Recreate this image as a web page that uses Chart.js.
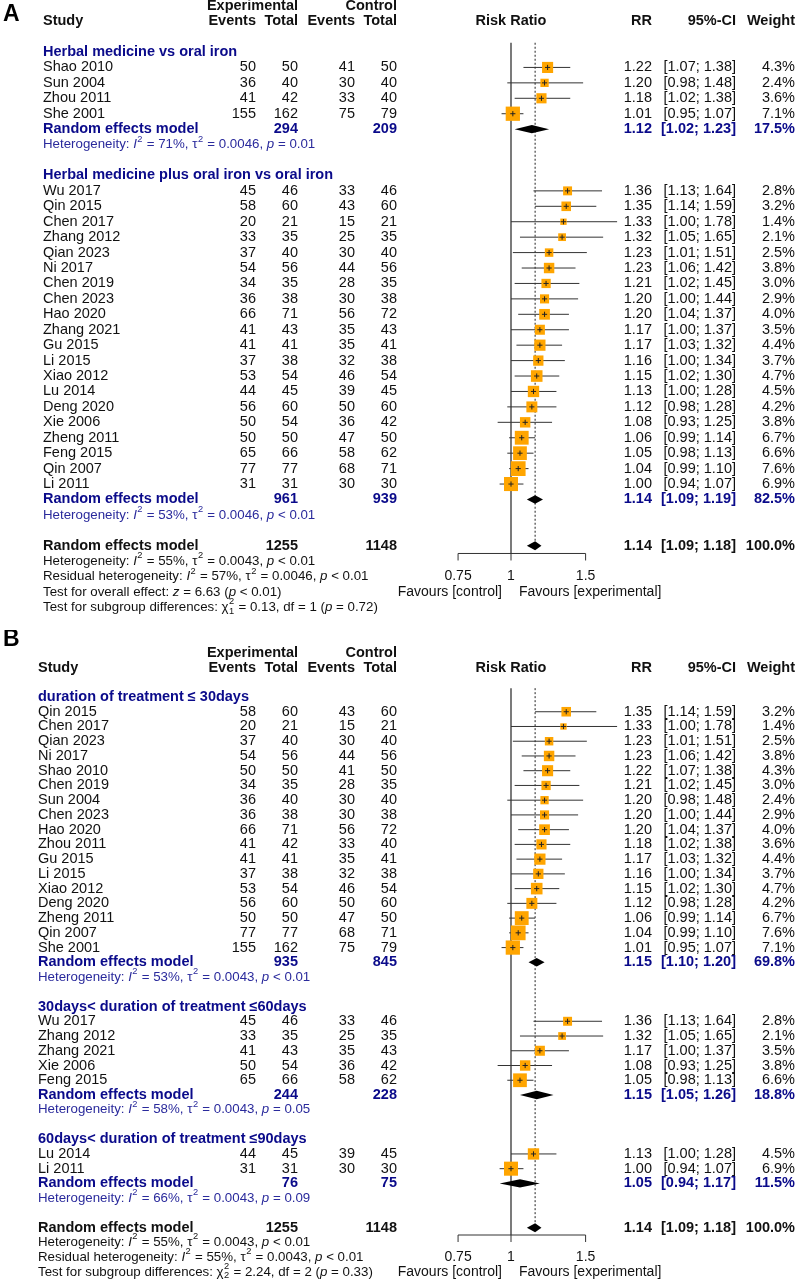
<!DOCTYPE html>
<html>
<head>
<meta charset="utf-8">
<title>Forest plots</title>
<script src="https://cdn.jsdelivr.net/npm/chart.js@4.4.0/dist/chart.umd.min.js"></script>
<style>
  html, body { margin: 0; padding: 0; background: #fff; }
  #wrap { position: relative; width: 803px; height: 1282px; background: #fff; }
  canvas { position: absolute; left: 0; }
  #forestA { top: 0; width: 803px; height: 630px; }
  #forestB { top: 630px; width: 803px; height: 652px; }
</style>
</head>
<body>
<div id="wrap">
  <canvas id="forestA" width="803" height="630"></canvas>
  <canvas id="forestB" width="803" height="652"></canvas>
</div>
<script>
// ---------- Panel A ----------
var subgroupsA = ['Herbal medicine vs oral iron', 'Herbal medicine plus oral iron vs oral iron'];
var studiesA = ['Shao 2010', 'Sun 2004', 'Zhou 2011', 'She 2001',
  'Wu 2017', 'Qin 2015', 'Chen 2017', 'Zhang 2012', 'Qian 2023', 'Ni 2017', 'Chen 2019', 'Chen 2023',
  'Hao 2020', 'Zhang 2021', 'Gu 2015', 'Li 2015', 'Xiao 2012', 'Lu 2014', 'Deng 2020', 'Xie 2006',
  'Zheng 2011', 'Feng 2015', 'Qin 2007', 'Li 2011'];
var groupA = [0, 0, 0, 0, 1, 1, 1, 1, 1, 1, 1, 1, 1, 1, 1, 1, 1, 1, 1, 1, 1, 1, 1, 1];
var expEventsA = [50, 36, 41, 155, 45, 58, 20, 33, 37, 54, 34, 36, 66, 41, 41, 37, 53, 44, 56, 50, 50, 65, 77, 31];
var expTotalA = [50, 40, 42, 162, 46, 60, 21, 35, 40, 56, 35, 38, 71, 43, 41, 38, 54, 45, 60, 54, 50, 66, 77, 31];
var ctrlEventsA = [41, 30, 33, 75, 33, 43, 15, 25, 30, 44, 28, 30, 56, 35, 35, 32, 46, 39, 50, 36, 47, 58, 68, 30];
var ctrlTotalA = [50, 40, 40, 79, 46, 60, 21, 35, 40, 56, 35, 38, 72, 43, 41, 38, 54, 45, 60, 42, 50, 62, 71, 30];
var rrA = [1.22, 1.20, 1.18, 1.01, 1.36, 1.35, 1.33, 1.32, 1.23, 1.23, 1.21, 1.20, 1.20, 1.17, 1.17, 1.16, 1.15, 1.13, 1.12, 1.08, 1.06, 1.05, 1.04, 1.00];
var lowerA = [1.07, 0.98, 1.02, 0.95, 1.13, 1.14, 1.00, 1.05, 1.01, 1.06, 1.02, 1.00, 1.04, 1.00, 1.03, 1.00, 1.02, 1.00, 0.98, 0.93, 0.99, 0.98, 0.99, 0.94];
var upperA = [1.38, 1.48, 1.38, 1.07, 1.64, 1.59, 1.78, 1.65, 1.51, 1.42, 1.45, 1.44, 1.37, 1.37, 1.32, 1.34, 1.30, 1.28, 1.28, 1.25, 1.14, 1.13, 1.10, 1.07];
var weightA = [4.3, 2.4, 3.6, 7.1, 2.8, 3.2, 1.4, 2.1, 2.5, 3.8, 3.0, 2.9, 4.0, 3.5, 4.4, 3.7, 4.7, 4.5, 4.2, 3.8, 6.7, 6.6, 7.6, 6.9];
var subExpTotalA = [294, 961];
var subCtrlTotalA = [209, 939];
var subRrA = [1.12, 1.14];
var subLowerA = [1.02, 1.09];
var subUpperA = [1.23, 1.19];
var subWeightA = [17.5, 82.5];
var subI2A = [71, 53];
var subTau2A = ['0.0046', '0.0046'];
var subPA = ['= 0.01', '< 0.01'];
var overallTotalsA = [1255, 1148];
var overallEstA = [1.14, 1.09, 1.18];   // RR, lower, upper
var overallHetA = [55, '0.0043', '< 0.01'];
var residualHetA = [57, '0.0046', '< 0.01'];
var overallTestA = ['6.63', '< 0.01'];   // z, p
var subgroupTestA = ['1', '0.13', '1', '0.72'];   // chi-sq df subscript, value, df, p

// ---------- Panel B ----------
var subgroupsB = ['duration of treatment \u2264 30days', '30days< duration of treatment \u226460days', '60days< duration of treatment \u226490days'];
var studiesB = ['Qin 2015', 'Chen 2017', 'Qian 2023', 'Ni 2017', 'Shao 2010', 'Chen 2019', 'Sun 2004', 'Chen 2023',
  'Hao 2020', 'Zhou 2011', 'Gu 2015', 'Li 2015', 'Xiao 2012', 'Deng 2020', 'Zheng 2011', 'Qin 2007', 'She 2001',
  'Wu 2017', 'Zhang 2012', 'Zhang 2021', 'Xie 2006', 'Feng 2015',
  'Lu 2014', 'Li 2011'];
var groupB = [0, 0, 0, 0, 0, 0, 0, 0, 0, 0, 0, 0, 0, 0, 0, 0, 0, 1, 1, 1, 1, 1, 2, 2];
var expEventsB = [58, 20, 37, 54, 50, 34, 36, 36, 66, 41, 41, 37, 53, 56, 50, 77, 155, 45, 33, 41, 50, 65, 44, 31];
var expTotalB = [60, 21, 40, 56, 50, 35, 40, 38, 71, 42, 41, 38, 54, 60, 50, 77, 162, 46, 35, 43, 54, 66, 45, 31];
var ctrlEventsB = [43, 15, 30, 44, 41, 28, 30, 30, 56, 33, 35, 32, 46, 50, 47, 68, 75, 33, 25, 35, 36, 58, 39, 30];
var ctrlTotalB = [60, 21, 40, 56, 50, 35, 40, 38, 72, 40, 41, 38, 54, 60, 50, 71, 79, 46, 35, 43, 42, 62, 45, 30];
var rrB = [1.35, 1.33, 1.23, 1.23, 1.22, 1.21, 1.20, 1.20, 1.20, 1.18, 1.17, 1.16, 1.15, 1.12, 1.06, 1.04, 1.01, 1.36, 1.32, 1.17, 1.08, 1.05, 1.13, 1.00];
var lowerB = [1.14, 1.00, 1.01, 1.06, 1.07, 1.02, 0.98, 1.00, 1.04, 1.02, 1.03, 1.00, 1.02, 0.98, 0.99, 0.99, 0.95, 1.13, 1.05, 1.00, 0.93, 0.98, 1.00, 0.94];
var upperB = [1.59, 1.78, 1.51, 1.42, 1.38, 1.45, 1.48, 1.44, 1.37, 1.38, 1.32, 1.34, 1.30, 1.28, 1.14, 1.10, 1.07, 1.64, 1.65, 1.37, 1.25, 1.13, 1.28, 1.07];
var weightB = [3.2, 1.4, 2.5, 3.8, 4.3, 3.0, 2.4, 2.9, 4.0, 3.6, 4.4, 3.7, 4.7, 4.2, 6.7, 7.6, 7.1, 2.8, 2.1, 3.5, 3.8, 6.6, 4.5, 6.9];
var subExpTotalB = [935, 244, 76];
var subCtrlTotalB = [845, 228, 75];
var subRrB = [1.15, 1.15, 1.05];
var subLowerB = [1.10, 1.05, 0.94];
var subUpperB = [1.20, 1.26, 1.17];
var subWeightB = [69.8, 18.8, 11.5];
var subI2B = [53, 58, 66];
var subTau2B = ['0.0043', '0.0043', '0.0043'];
var subPB = ['< 0.01', '= 0.05', '= 0.09'];
var overallTotalsB = [1255, 1148];
var overallEstB = [1.14, 1.09, 1.18];
var overallHetB = [55, '0.0043', '< 0.01'];
var residualHetB = [55, '0.0043', '< 0.01'];
var overallTestB = null;
var subgroupTestB = ['2', '2.24', '2', '0.33'];

var axisTicks = [0.75, 1, 1.5];
var axisLabels = ['0.75', '1', '1.5'];

// ---------- drawing ----------
var FAM = '"Liberation Sans", Arial, Helvetica, sans-serif';
var BLUE = '#0a0a8a';
var HETBLUE = '#2a2a9c';
var INK = '#111';

function f2(v) { return v.toFixed(2); }
function ciText(l, h) { return '[' + f2(l) + '; ' + f2(h) + ']'; }
function wText(w) { return w.toFixed(1) + '%'; }

function txt(ctx, s, x, y, align, font, color) {
	ctx.font = font;
	ctx.fillStyle = color;
	ctx.textAlign = align;
	ctx.textBaseline = 'middle';
	ctx.fillText(s, x, y);
}

// parts: [text, style, extra]  style: '', 'i', 'sup', 'supsub'
function rich(ctx, parts, x, y, size, color) {
	ctx.textAlign = 'left';
	ctx.textBaseline = 'middle';
	ctx.fillStyle = color;
	var cx = x;
	parts.forEach(function(pt) {
		var s = pt[0], st = pt[1] || '';
		if (st === 'sup' || st === 'supsub') {
			ctx.font = (size * 0.7) + 'px ' + FAM;
			ctx.fillText(s, cx + 0.5, y - size * 0.42);
			var w = ctx.measureText(s).width;
			if (st === 'supsub') {
				ctx.fillText(pt[2], cx + 0.5, y + size * 0.3);
				w = Math.max(w, ctx.measureText(pt[2]).width);
			}
			cx += w + 1;
		} else {
			ctx.font = (st === 'i' ? 'italic ' : '') + size + 'px ' + FAM;
			ctx.fillText(s, cx, y);
			cx += ctx.measureText(s).width;
		}
	});
}

function hetParts(prefix, h) {
	return [[prefix], ['I', 'i'], ['2', 'sup'], [' = ' + h[0] + '%, '], ['\u03c4'], ['2', 'sup'],
		[' = ' + h[1] + ', '], ['p', 'i'], [' ' + h[2]]];
}

function buildPanel(id, p) {
	var canvas = document.getElementById(id);
	var H = canvas.height;
	var n = p.studies.length;

	// row layout
	var studyRow = [], headRow = [], remRow = [], hetRow = [];
	var r = 0;
	for (var g = 0; g < p.subgroups.length; g++) {
		headRow.push(r); r++;
		for (var i = 0; i < n; i++) {
			if (p.group[i] === g) { studyRow[i] = r; r++; }
		}
		remRow.push(r); r++;
		hetRow.push(r); r++;
		r++;
	}
	var overallRow = r;

	// x: log scale, 511px at RR = 1, 184px per natural-log unit
	var xMin = Math.exp(-511 / 184), xMax = Math.exp((803 - 511) / 184);
	var yMin = -p.top0 / p.rowH, yMax = (H - p.top0) / p.rowH;

	var ciData = [];
	var pts = [];
	for (var k = 0; k < n; k++) {
		ciData.push({x: p.lower[k], y: studyRow[k]}, {x: p.upper[k], y: studyRow[k]}, {x: p.upper[k], y: null});
		pts.push({x: p.rr[k], y: studyRow[k]});
	}
	var radii = p.weight.map(function(w) { return 5.35 * Math.sqrt(w) / Math.SQRT2; });

	var forest = {
		id: 'forest' + id,
		beforeDatasetsDraw: function(chart) {
			var ctx = chart.ctx, xs = chart.scales.x, ys = chart.scales.y;
			var x1 = xs.getPixelForValue(1);
			var topY = ys.getPixelForValue(-0.6);
			var axisY = ys.getPixelForValue(overallRow + 0.5);
			ctx.save();
			ctx.strokeStyle = '#222';
			ctx.lineWidth = 1.2;
			ctx.beginPath();
			ctx.moveTo(x1, topY); ctx.lineTo(x1, axisY);
			ctx.stroke();
			// overall effect dotted line
			var xo = xs.getPixelForValue(p.overall[0]);
			ctx.lineWidth = 1;
			ctx.setLineDash([2, 2]);
			ctx.beginPath();
			ctx.moveTo(xo, topY); ctx.lineTo(xo, ys.getPixelForValue(overallRow + 0.2));
			ctx.stroke();
			ctx.setLineDash([]);
			// axis
			var xa = xs.getPixelForValue(axisTicks[0]), xb = xs.getPixelForValue(axisTicks[axisTicks.length - 1]);
			ctx.strokeStyle = '#333';
			ctx.beginPath();
			ctx.moveTo(xa, axisY); ctx.lineTo(xb, axisY);
			axisTicks.forEach(function(t) {
				var tx = xs.getPixelForValue(t);
				ctx.moveTo(tx, axisY); ctx.lineTo(tx, axisY + 7);
			});
			ctx.stroke();
			var ly = ys.getPixelForValue(overallRow + 2);
			axisTicks.forEach(function(t, j) {
				txt(ctx, axisLabels[j], xs.getPixelForValue(t), ly, 'center', '14px ' + FAM, INK);
			});
			var fy = ys.getPixelForValue(overallRow + 3);
			txt(ctx, 'Favours [control]', x1 - 9, fy, 'right', '14px ' + FAM, INK);
			txt(ctx, 'Favours [experimental]', x1 + 8, fy, 'left', '14px ' + FAM, INK);
			ctx.restore();
		},
		afterDatasetsDraw: function(chart) {
			var ctx = chart.ctx, xs = chart.scales.x, ys = chart.scales.y;
			var Y = function(row) { return ys.getPixelForValue(row); };
			var reg = '14.5px ' + FAM, bold = 'bold 14.5px ' + FAM;
			ctx.save();

			function diamond(est, lo, hi, row, h) {
				var y = Y(row);
				ctx.fillStyle = '#000';
				ctx.beginPath();
				ctx.moveTo(xs.getPixelForValue(lo), y);
				ctx.lineTo(xs.getPixelForValue(est), y - h);
				ctx.lineTo(xs.getPixelForValue(hi), y);
				ctx.lineTo(xs.getPixelForValue(est), y + h);
				ctx.closePath();
				ctx.fill();
			}

			// panel letter and headers
			txt(ctx, p.letter, 3, p.letterY, 'left', 'bold 23px ' + FAM, '#000');
			txt(ctx, 'Experimental', 298, Y(-3), 'right', bold, INK);
			txt(ctx, 'Control', 397, Y(-3), 'right', bold, INK);
			txt(ctx, 'Study', p.studyX, Y(-2), 'left', bold, INK);
			txt(ctx, 'Events', 256, Y(-2), 'right', bold, INK);
			txt(ctx, 'Total', 298, Y(-2), 'right', bold, INK);
			txt(ctx, 'Events', 355, Y(-2), 'right', bold, INK);
			txt(ctx, 'Total', 397, Y(-2), 'right', bold, INK);
			txt(ctx, 'Risk Ratio', xs.getPixelForValue(1), Y(-2), 'center', bold, INK);
			txt(ctx, 'RR', 652, Y(-2), 'right', bold, INK);
			txt(ctx, '95%-CI', 736, Y(-2), 'right', bold, INK);
			txt(ctx, 'Weight', 795, Y(-2), 'right', bold, INK);

			// studies
			for (var k = 0; k < n; k++) {
				var y = Y(studyRow[k]);
				txt(ctx, p.studies[k], p.studyX, y, 'left', reg, INK);
				txt(ctx, String(p.expEvents[k]), 256, y, 'right', reg, INK);
				txt(ctx, String(p.expTotal[k]), 298, y, 'right', reg, INK);
				txt(ctx, String(p.ctrlEvents[k]), 355, y, 'right', reg, INK);
				txt(ctx, String(p.ctrlTotal[k]), 397, y, 'right', reg, INK);
				txt(ctx, f2(p.rr[k]), 652, y, 'right', reg, INK);
				txt(ctx, ciText(p.lower[k], p.upper[k]), 736, y, 'right', reg, INK);
				txt(ctx, wText(p.weight[k]), 795, y, 'right', reg, INK);
			}

			// subgroups
			for (var g = 0; g < p.subgroups.length; g++) {
				txt(ctx, p.subgroups[g], p.studyX, Y(headRow[g]), 'left', bold, BLUE);
				var yr = Y(remRow[g]);
				txt(ctx, 'Random effects model', p.studyX, yr, 'left', bold, BLUE);
				txt(ctx, String(p.subExpTotal[g]), 298, yr, 'right', bold, BLUE);
				txt(ctx, String(p.subCtrlTotal[g]), 397, yr, 'right', bold, BLUE);
				txt(ctx, f2(p.subRr[g]), 652, yr, 'right', bold, BLUE);
				txt(ctx, ciText(p.subLower[g], p.subUpper[g]), 736, yr, 'right', bold, BLUE);
				txt(ctx, wText(p.subWeight[g]), 795, yr, 'right', bold, BLUE);
				diamond(p.subRr[g], p.subLower[g], p.subUpper[g], remRow[g], 4.2);
				rich(ctx, hetParts('Heterogeneity: ', [p.subI2[g], p.subTau2[g], p.subP[g]]), p.studyX, Y(hetRow[g]), 13.3, HETBLUE);
			}

			// overall
			var yo = Y(overallRow);
			txt(ctx, 'Random effects model', p.studyX, yo, 'left', bold, INK);
			txt(ctx, String(p.overallTotals[0]), 298, yo, 'right', bold, INK);
			txt(ctx, String(p.overallTotals[1]), 397, yo, 'right', bold, INK);
			txt(ctx, f2(p.overall[0]), 652, yo, 'right', bold, INK);
			txt(ctx, ciText(p.overall[1], p.overall[2]), 736, yo, 'right', bold, INK);
			txt(ctx, '100.0%', 795, yo, 'right', bold, INK);
			diamond(p.overall[0], p.overall[1], p.overall[2], overallRow, 4.5);

			var fr = overallRow + 1;
			rich(ctx, hetParts('Heterogeneity: ', p.overallHet), p.studyX, Y(fr++), 13.3, INK);
			rich(ctx, hetParts('Residual heterogeneity: ', p.residualHet), p.studyX, Y(fr++), 13.3, INK);
			if (p.overallTest) {
				rich(ctx, [['Test for overall effect: '], ['z', 'i'], [' = ' + p.overallTest[0] + ' ('], ['p', 'i'], [' ' + p.overallTest[1] + ')']],
					p.studyX, Y(fr++), 13.3, INK);
			}
			var st = p.subgroupTest;
			rich(ctx, [['Test for subgroup differences: '], ['\u03c7'], ['2', 'supsub', st[0]], [' = ' + st[1] + ', df = ' + st[2] + ' ('], ['p', 'i'], [' = ' + st[3] + ')']],
				p.studyX, Y(fr++), 13.3, INK);
			ctx.restore();
		}
	};

	return new Chart(canvas, {
		type: 'scatter',
		data: {
			datasets: [{
				data: pts,
				pointStyle: 'cross',
				pointRadius: 2.6,
				borderColor: '#222',
				borderWidth: 1,
				order: 0
			}, {
				data: pts,
				pointStyle: 'rect',
				pointRadius: radii,
				backgroundColor: '#FFA500',
				borderWidth: 0,
				order: 1
			}, {
				data: ciData,
				showLine: true,
				spanGaps: false,
				pointRadius: 0,
				borderColor: '#333',
				borderWidth: 1,
				order: 2
			}]
		},
		options: {
			responsive: false,
			animation: false,
			events: [],
			layout: { padding: 0, autoPadding: false },
			plugins: { legend: { display: false }, tooltip: { enabled: false } },
			scales: {
				x: { type: 'logarithmic', min: xMin, max: xMax, display: false },
				y: { type: 'linear', min: yMin, max: yMax, reverse: true, display: false }
			}
		},
		plugins: [forest]
	});
}

buildPanel('forestA', {
	letter: 'A', letterY: 15, studyX: 43, top0: 52, rowH: 15.43,
	subgroups: subgroupsA, studies: studiesA, group: groupA,
	expEvents: expEventsA, expTotal: expTotalA, ctrlEvents: ctrlEventsA, ctrlTotal: ctrlTotalA,
	rr: rrA, lower: lowerA, upper: upperA, weight: weightA,
	subExpTotal: subExpTotalA, subCtrlTotal: subCtrlTotalA, subRr: subRrA, subLower: subLowerA,
	subUpper: subUpperA, subWeight: subWeightA, subI2: subI2A, subTau2: subTau2A, subP: subPA,
	overallTotals: overallTotalsA, overall: overallEstA, overallHet: overallHetA,
	residualHet: residualHetA, overallTest: overallTestA, subgroupTest: subgroupTestA
});

buildPanel('forestB', {
	letter: 'B', letterY: 10, studyX: 38, top0: 67, rowH: 14.74,
	subgroups: subgroupsB, studies: studiesB, group: groupB,
	expEvents: expEventsB, expTotal: expTotalB, ctrlEvents: ctrlEventsB, ctrlTotal: ctrlTotalB,
	rr: rrB, lower: lowerB, upper: upperB, weight: weightB,
	subExpTotal: subExpTotalB, subCtrlTotal: subCtrlTotalB, subRr: subRrB, subLower: subLowerB,
	subUpper: subUpperB, subWeight: subWeightB, subI2: subI2B, subTau2: subTau2B, subP: subPB,
	overallTotals: overallTotalsB, overall: overallEstB, overallHet: overallHetB,
	residualHet: residualHetB, overallTest: overallTestB, subgroupTest: subgroupTestB
});
</script>
</body>
</html>
